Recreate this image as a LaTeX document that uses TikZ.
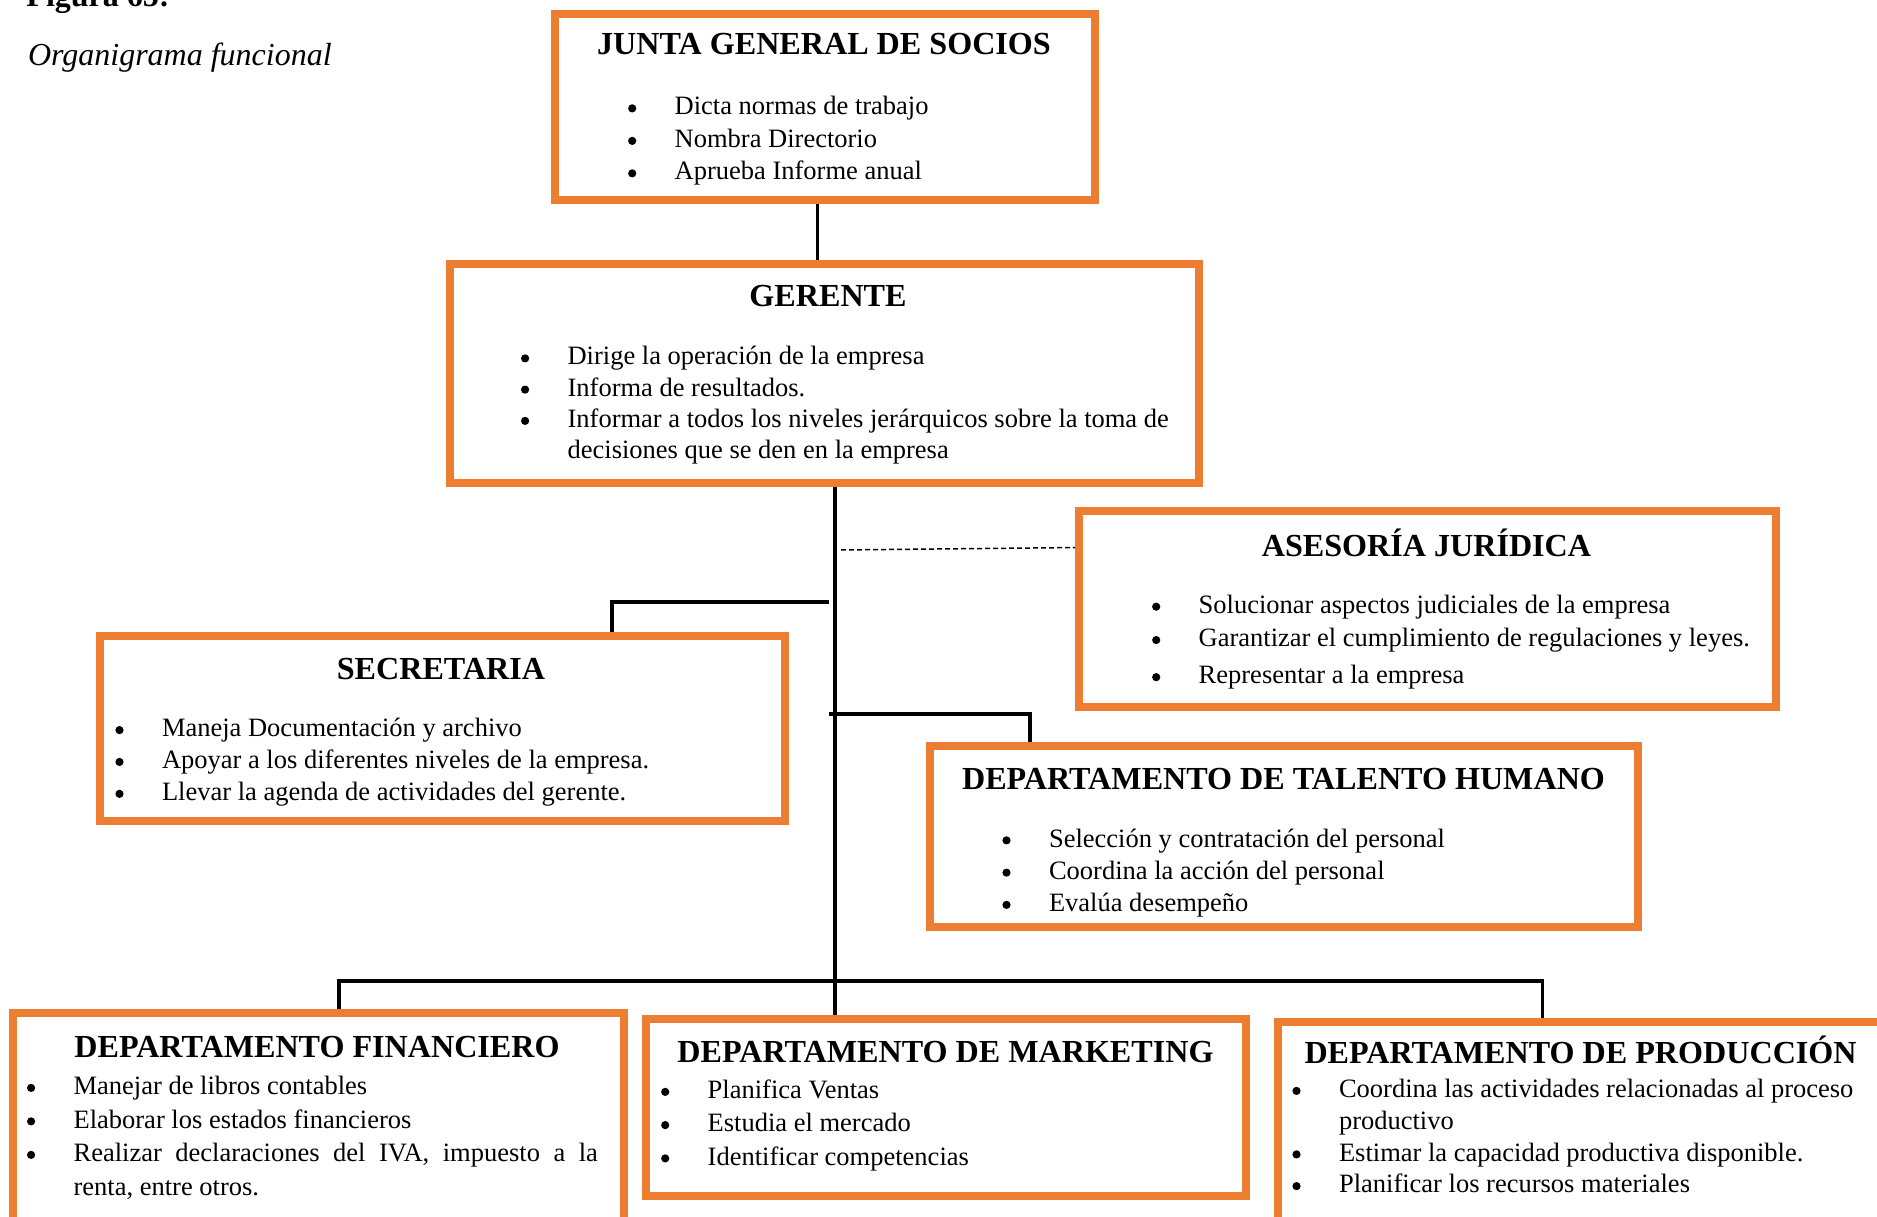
\documentclass[tikz,border=0pt]{standalone}
\usepackage{fontspec}
\setmainfont{Liberation Serif}
\usetikzlibrary{calc,backgrounds}
\definecolor{frameorange}{HTML}{ED7D31}

% bullet lists: round dot centred on the left edge, text indented
\newlength\bulletind
\setlength\bulletind{17pt}
\newcommand\dotmark{\tikz[baseline=0pt]\fill (0pt,0.25em) circle[radius=0.155em];}
\newcommand\bitem[1]{\makebox[\bulletind][l]{\makebox[0pt][c]{\dotmark}}#1}
\newcommand\citem[1]{\hspace*{\bulletind}#1}
\newcommand\itemlist[2]{\parbox[t]{320pt}{\fontsize{10.6}{#1}\selectfont\lineskiplimit=-100pt\raggedright #2}}

% framed box from its corner coordinates (border centre line)
\newcommand\orgbox[5]{%
  \pgfmathsetmacro\obw{(#4-#2)*0.4}%
  \pgfmathsetmacro\obh{(#5-#3)*0.4}%
  \node[orgframe, minimum width=\obw pt, minimum height=\obh pt] (#1) at ({(#2+#4)/2},{(#3+#5)/2}) {};%
}

\tikzset{
  orgframe/.style={draw=frameorange, line width=3.2pt, fill=white, inner sep=0pt, outer sep=0pt},
  link/.style={line width=1.5pt, black},
  advice/.style={line width=0.6pt, black, dash pattern=on 2pt off 1.2pt},
  heading/.style={font=\fontsize{12.85}{15}\selectfont\bfseries, anchor=base, inner sep=0pt},
  bullets/.style={anchor=base west, inner sep=0pt},
}

\begin{document}
\begin{tikzpicture}[x=0.4pt, y=-0.4pt]
\useasboundingbox (0,0) rectangle (1877,1217);
\clip (0,0) rectangle (1877,1217);

% caption
\node[anchor=base west, inner sep=0pt, font=\fontsize{12.8}{15}\selectfont\bfseries] (figlabel) at (26,7) {Figura 65:};
\node[anchor=base west, inner sep=0pt, font=\fontsize{12.8}{15}\selectfont\itshape] (figtitle) at (27.5,66) {Organigrama funcional};

% boxes
\orgbox{junta}{554.5}{13.7}{1095}{200.3}
\orgbox{gerente}{450}{264}{1199}{483}
\orgbox{asesoria}{1078.5}{511}{1775.5}{707}
\orgbox{secretaria}{99.5}{635.5}{785}{821}
\orgbox{talento}{930}{745.5}{1638}{926.7}
\orgbox{financiero}{13}{1012.5}{624}{1221}
\orgbox{marketing}{645.5}{1019}{1246}{1196}
\orgbox{produccion}{1277.7}{1022}{1885}{1221}

% connector guide coordinates
\coordinate (xa) at (817.5,0);
\coordinate (xb) at (835,0);
\coordinate (secend) at (829,601.7);
\coordinate (sec) at (611.7,601.7);
\coordinate (talstart) at (829,714);
\coordinate (tal) at (1030,714);
\coordinate (bus) at (0,981);
\coordinate (xf) at (338.8,0);
\coordinate (xp) at (1542.5,0);
\coordinate (dashL) at (841,550);
\coordinate (dashR) at (0,547.5);

\begin{pgfonlayer}{background}
  \fill[white] (0,0) rectangle (1877,1217);
  \draw[link] (junta.south -| xa) -- (gerente.north -| xa);
  \draw[link] (gerente.south -| xb) -- (marketing.north -| xb);
  \draw[link] (secend) -- (sec) -- (secretaria.north -| sec);
  \draw[link] (talstart) -- (tal) -- (talento.north -| tal);
  \draw[link] (financiero.north -| xf) -- (xf |- bus) -- (xp |- bus) -- (produccion.north -| xp);
  \draw[advice] (dashL) -- (asesoria.west |- dashR);
\end{pgfonlayer}

% headings
\node[heading] (juntaT) at (824,55) {JUNTA GENERAL DE SOCIOS};
\node[heading] (gerenteT) at (828,306.5) {GERENTE};
\node[heading] (asesoriaT) at (1426.5,556) {ASESORÍA JURÍDICA};
\node[heading] (secretariaT) at (441,679.5) {SECRETARIA};
\node[heading] (talentoT) at (1283.5,789) {DEPARTAMENTO DE TALENTO HUMANO};
\node[heading] (financieroT) at (317,1057) {DEPARTAMENTO FINANCIERO};
\node[heading] (marketingT) at (945.5,1062) {DEPARTAMENTO DE MARKETING};
\node[heading, anchor=base west] (produccionT) at (1304,1063) {DEPARTAMENTO DE PRODUCCIÓN};

% task lists
\node[bullets] (juntaL) at (631.7,115) {\itemlist{13pt}{%
  \bitem{Dicta normas de trabajo}\\
  \bitem{Nombra Directorio}\\
  \bitem{Aprueba Informe anual}}};
\node[bullets] (gerenteL) at (524.6,365) {\itemlist{12.5pt}{%
  \bitem{Dirige la operación de la empresa}\\
  \bitem{Informa de resultados.}\\
  \bitem{Informar a todos los niveles jerárquicos sobre la toma de}\\
  \citem{decisiones que se den en la empresa}}};
\node[bullets] (asesoriaL) at (1155.7,613.3) {\itemlist{13.35pt}{%
  \bitem{Solucionar aspectos judiciales de la empresa}\\
  \bitem{Garantizar el cumplimiento de regulaciones y leyes.}\\[1.5pt]
  \bitem{Representar a la empresa}}};
\node[bullets] (secretariaL) at (119,736.7) {\itemlist{12.75pt}{%
  \bitem{Maneja Documentación y archivo}\\
  \bitem{Apoyar a los diferentes niveles de la empresa.}\\
  \bitem{Llevar la agenda de actividades del gerente.}}};
\node[bullets] (talentoL) at (1006,847) {\itemlist{12.9pt}{%
  \bitem{Selección y contratación del personal}\\
  \bitem{Coordina la acción del personal}\\
  \bitem{Evalúa desempeño}}};
\node[bullets] (financieroL) at (30.6,1094.5) {\itemlist{13.4pt}{%
  \bitem{Manejar de libros contables}\\
  \bitem{Elaborar los estados financieros}\\
  \bitem{\makebox[209.7pt][s]{Realizar declaraciones del IVA, impuesto a la}}\\
  \citem{renta, entre otros.}}};
\node[bullets] (marketingL) at (664.7,1098.5) {\itemlist{13.3pt}{%
  \bitem{Planifica Ventas}\\
  \bitem{Estudia el mercado}\\
  \bitem{Identificar competencias}}};
\node[bullets] (produccionL) at (1296,1097.5) {\itemlist{12.7pt}{%
  \bitem{Coordina las actividades relacionadas al proceso}\\
  \citem{productivo}\\
  \bitem{Estimar la capacidad productiva disponible.}\\
  \bitem{Planificar los recursos materiales}}};
\end{tikzpicture}
\end{document}
